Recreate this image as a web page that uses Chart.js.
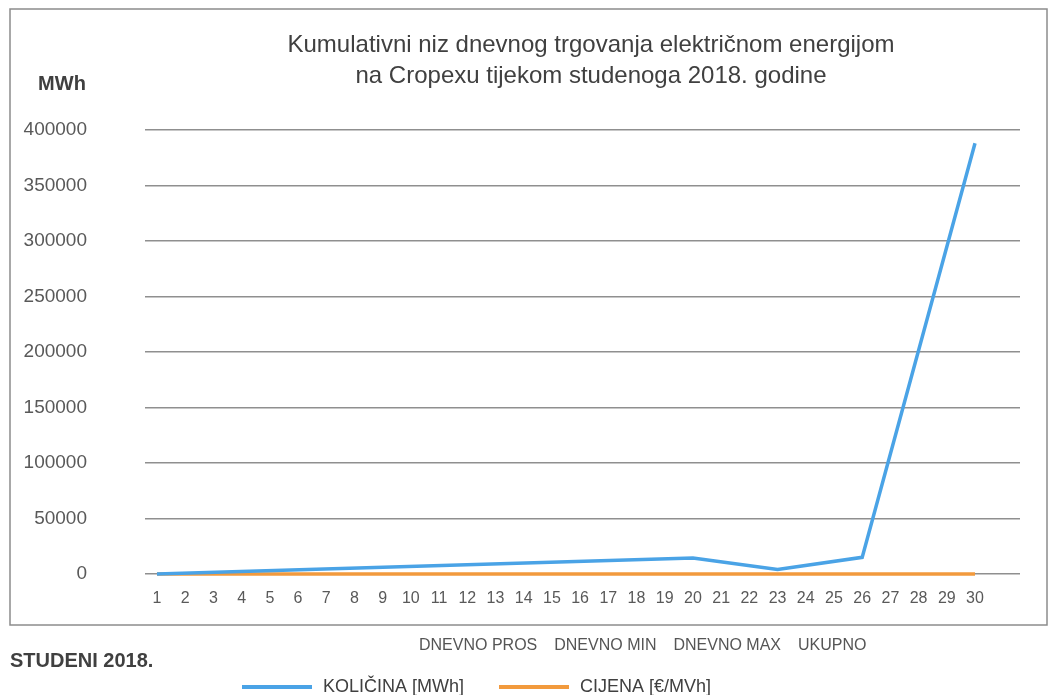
<!DOCTYPE html>
<html>
<head>
<meta charset="utf-8">
<script src="https://cdn.jsdelivr.net/npm/chart.js@4/dist/chart.umd.min.js"></script>
<style>
  html, body { margin: 0; padding: 0; background: #fff; }
  #wrap { position: relative; width: 1049px; height: 695px; }
</style>
</head>
<body>
<div id="wrap"><canvas id="cropexChart" width="1049" height="695"></canvas></div>
<script>
// Chart texts
const titleLines = ['Kumulativni niz dnevnog trgovanja električnom energijom', 'na Cropexu tijekom studenoga 2018. godine'];
const unitLabel = 'MWh';
const monthLabel = 'STUDENI 2018.';
const summaryLabels = ['DNEVNO PROS', 'DNEVNO MIN', 'DNEVNO MAX', 'UKUPNO'];

// Axis ticks
const dayTicks = [1, 2, 3, 4, 5, 6, 7, 8, 9, 10, 11, 12, 13, 14, 15, 16, 17, 18, 19, 20, 21, 22, 23, 24, 25, 26, 27, 28, 29, 30];
const yTicks = [0, 50000, 100000, 150000, 200000, 250000, 300000, 350000, 400000];

// Series
const kolicinaDays = [1, 20, 23, 26, 30];
const kolicinaValues = [0, 14500, 4000, 15000, 388000];
const cijenaDays = [1, 30];
const cijenaValues = [50, 50];

const FONT = '"Liberation Sans", Arial, sans-serif';

function toPoints(xs, ys) {
    return xs.map((x, i) => ({ x: x, y: ys[i] }));
}

// Frame, title, side notes and legend drawn around the plot
const notesPlugin = {
    id: 'notes',
    beforeDraw(chart) {
        const ctx = chart.ctx;
        ctx.save();
        ctx.fillStyle = '#fff';
        ctx.fillRect(0, 0, chart.width, chart.height);
        ctx.strokeStyle = '#8c8c8c';
        ctx.lineWidth = 1.5;
        ctx.strokeRect(10, 9, 1037, 616);
        ctx.restore();
    },
    afterDraw(chart) {
        const ctx = chart.ctx;
        ctx.save();
        ctx.textBaseline = 'middle';

        // title
        ctx.fillStyle = '#404040';
        ctx.font = '24px ' + FONT;
        ctx.textAlign = 'center';
        titleLines.forEach((t, i) => ctx.fillText(t, 591, 45 + i * 31));

        // unit label
        ctx.font = 'bold 20px ' + FONT;
        ctx.fillText(unitLabel, 62, 84);

        ctx.textAlign = 'left';
        ctx.fillText(monthLabel, 10, 661);

        // summary captions under the box
        ctx.font = '16px ' + FONT;
        ctx.fillStyle = '#555';
        let x = 419;
        summaryLabels.forEach(s => {
            ctx.fillText(s, x, 646);
            x += ctx.measureText(s).width + 17;
        });

        // legend
        ctx.font = '18px ' + FONT;
        ctx.fillStyle = '#404040';
        x = 242;
        chart.data.datasets.forEach(ds => {
            ctx.strokeStyle = ds.borderColor;
            ctx.lineWidth = 4;
            ctx.beginPath();
            ctx.moveTo(x, 687);
            ctx.lineTo(x + 70, 687);
            ctx.stroke();
            ctx.fillText(ds.label, x + 81, 687);
            x += 81 + ctx.measureText(ds.label).width + 35;
        });
        ctx.restore();
    }
};

const ctx = document.getElementById('cropexChart');

new Chart(ctx, {
    type: 'line',
    data: {
        datasets: [
            {
                label: 'KOLIČINA [MWh]',
                data: toPoints(kolicinaDays, kolicinaValues),
                borderColor: '#4aa3e6',
                backgroundColor: '#4aa3e6',
                borderWidth: 3.5,
                pointRadius: 0,
                tension: 0,
                clip: false
            },
            {
                label: 'CIJENA [€/MVh]',
                data: toPoints(cijenaDays, cijenaValues),
                borderColor: '#f29a3d',
                backgroundColor: '#f29a3d',
                borderWidth: 3.5,
                pointRadius: 0,
                tension: 0,
                clip: false
            }
        ]
    },
    options: {
        responsive: false,
        animation: false,
        layout: {
            padding: { left: 23, top: 130, right: 29, bottom: 81 }
        },
        plugins: {
            legend: { display: false },
            title: { display: false },
            tooltip: { enabled: false }
        },
        scales: {
            x: {
                type: 'linear',
                min: 0.5746,
                max: 31.595,
                grid: { display: false, drawTicks: false },
                border: { display: false },
                afterBuildTicks: function(scale) {
                    scale.ticks = dayTicks.map(v => ({ value: v }));
                },
                afterFit: function(scale) { scale.height = 40; },
                ticks: {
                    autoSkip: false,
                    maxRotation: 0,
                    padding: 15,
                    color: '#595959',
                    font: { family: FONT, size: 16 },
                    callback: function(value) { return String(value); }
                }
            },
            y: {
                min: 0,
                max: 400000,
                grid: { color: '#8f8f8f', lineWidth: 1.5, drawTicks: false },
                border: { display: false },
                afterBuildTicks: function(scale) {
                    scale.ticks = yTicks.map(v => ({ value: v }));
                },
                afterFit: function(scale) { scale.width = 122; },
                ticks: {
                    padding: 58,
                    color: '#595959',
                    font: { family: FONT, size: 19 },
                    callback: function(value) { return String(value); }
                }
            }
        }
    },
    plugins: [notesPlugin]
});
</script>
</body>
</html>
